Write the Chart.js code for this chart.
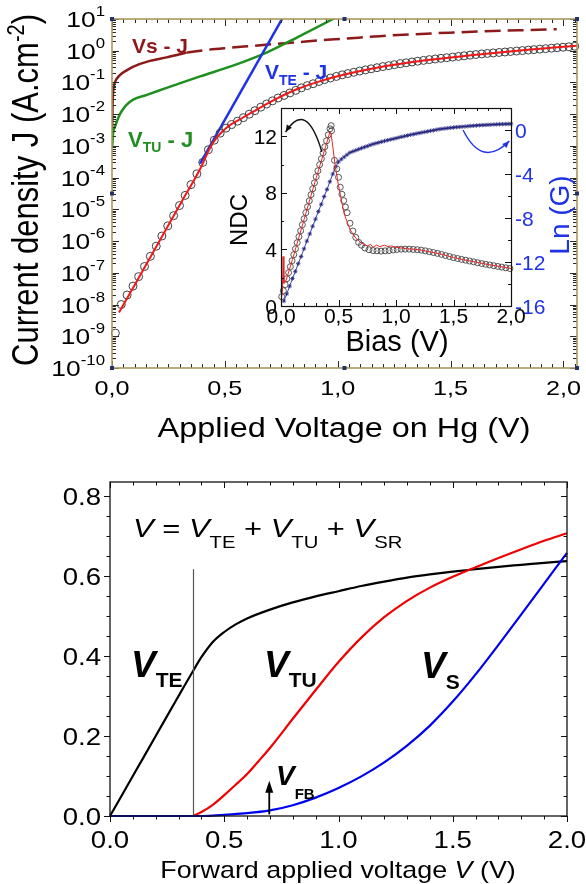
<!DOCTYPE html>
<html>
<head>
<meta charset="utf-8">
<script src="https://cdn.jsdelivr.net/npm/chart.js@4.4.0/dist/chart.umd.min.js"></script>
<style>
html, body { margin: 0; padding: 0; background: #fff; }
#wrap { position: relative; width: 586px; height: 884px; overflow: hidden; }
canvas { position: absolute; }
</style>
</head>
<body>
<div id="wrap">
  <canvas id="top" width="586" height="460" style="left:0;top:0;width:586px;height:460px"></canvas>
  <canvas id="inset" width="350" height="262" style="left:226px;top:100px;width:350px;height:262px"></canvas>
  <canvas id="bot" width="586" height="424" style="left:0;top:460px;width:586px;height:424px"></canvas>
</div>
<script>
// ---------- top panel : J-V on log scale (values are log10 J) ----------
const jV = [0.015,0.041,0.067,0.093,0.118,0.144,0.17,0.196,0.221,0.247,
  0.273,0.299,0.324,0.35,0.376,0.402,0.427,0.453,0.479,0.505,
  0.53,0.556,0.582,0.608,0.633,0.659,0.685,0.711,0.736,0.762,
  0.788,0.814,0.839,0.865,0.891,0.917,0.942,0.968,0.994,1.02,
  1.045,1.071,1.097,1.123,1.148,1.174,1.2,1.226,1.251,1.277,
  1.303,1.329,1.354,1.38,1.406,1.432,1.457,1.483,1.509,1.535,
  1.56,1.586,1.612,1.638,1.663,1.689,1.715,1.741,1.766,1.792,
  1.818,1.844,1.869,1.895,1.921,1.947,1.972,1.998,2.024,2.05];
const jLog = [-8.9,-8.0,-7.7,-7.42,-7.12,-6.8,-6.48,-6.16,-5.84,-5.52,
  -5.2,-4.88,-4.56,-4.22,-3.88,-3.52,-3.12,-2.82,-2.6,-2.44,
  -2.33,-2.22,-2.11,-2.0,-1.89,-1.78,-1.68,-1.58,-1.49,-1.41,
  -1.33,-1.25,-1.17,-1.1,-1.04,-0.97,-0.91,-0.86,-0.81,-0.76,
  -0.72,-0.68,-0.64,-0.605,-0.57,-0.535,-0.5,-0.47,-0.44,-0.41,
  -0.38,-0.355,-0.33,-0.305,-0.28,-0.26,-0.24,-0.22,-0.2,-0.18,
  -0.16,-0.14,-0.12,-0.1,-0.085,-0.07,-0.055,-0.04,-0.025,-0.01,
  0.005,0.02,0.035,0.05,0.065,0.08,0.095,0.11,0.125,0.14];
const fitV = [0.031,0.103,0.206,0.309,0.391,0.433,0.464,0.515,0.567,0.618,0.721,0.824,0.927,1.03,1.133,1.236,1.339,1.442,1.545,1.648,1.751,1.854,1.957,2.06];
const fitLog = [-8.25,-7.35,-6.05,-4.75,-3.72,-3.08,-2.74,-2.38,-2.16,-1.95,-1.54,-1.2,-0.95,-0.75,-0.59,-0.46,-0.35,-0.26,-0.18,-0.1,-0.03,0.04,0.1,0.16];
const vsV = [0.0008,0.003,0.013,0.035,0.065,0.095,0.168,0.242,0.33];
const vsLog = [-2.5,-1.55,-1.0,-0.77,-0.62,-0.5,-0.32,-0.21,-0.06];
const vsDashV = [0.33,0.412,0.515,0.618,0.721,0.824,0.927,1.03,1.185,1.339,1.494,1.648,1.803,1.97];
const vsDashLog = [-0.06,0.02,0.09,0.15,0.21,0.27,0.33,0.38,0.46,0.52,0.57,0.61,0.645,0.678];
const tuV = [0.001,0.005,0.013,0.035,0.062,0.094,0.155,0.242,0.39,0.536,0.687,0.834,0.979,1.03];
const tuLog = [-3.0,-2.6,-2.4,-2.0,-1.72,-1.54,-1.39,-1.17,-0.81,-0.47,-0.05,0.47,1.0,1.2];
const teV = [0.39, 0.77];
const teLog = [-3.56, 1.21];
const topXTicks = [0, 0.5, 1, 1.5, 2];
const topXLabels = ['0,0', '0,5', '1,0', '1,5', '2,0'];
const topYExp = [-10, -9, -8, -7, -6, -5, -4, -3, -2, -1, 0, 1];

// ---------- inset : NDC and Ln(G) vs bias ----------
const ndcV = [0.006,0.021,0.036,0.051,0.066,0.081,0.096,0.111,0.126,0.141,
  0.156,0.171,0.186,0.201,0.216,0.231,0.246,0.261,0.276,0.291,
  0.306,0.321,0.336,0.351,0.366,0.381,0.396,0.411,0.426,0.436,0.44,
  0.465,0.485,0.5,0.515,0.53,0.545,0.56,0.575,0.6,0.625,0.65,0.675,0.7,0.73,
  0.765,0.8,0.835,0.87,0.905,0.94,0.975,1.01,1.045,1.08,1.115,1.15,1.185,1.22,
  1.255,1.29,1.325,1.36,1.395,1.43,1.465,1.5,1.535,1.57,1.605,1.64,1.675,1.71,
  1.745,1.78,1.815,1.85,1.885,1.92,1.955,1.99];
const ndc = [0.66,1.08,1.51,1.93,2.36,2.78,3.2,3.63,4.05,4.48,
  4.9,5.32,5.75,6.17,6.6,7.02,7.44,7.87,8.29,8.71,
  9.14,9.56,9.99,10.41,10.83,11.26,11.68,12.1,12.53,12.75,12.4,
  10.3,9.7,9.1,8.4,7.9,7.45,7.0,6.6,5.85,5.3,4.85,4.5,4.3,4.1,
  3.98,3.92,3.9,3.88,3.9,3.92,3.96,4.0,4.02,4.02,4.02,4.0,3.98,3.95,
  3.9,3.84,3.78,3.72,3.65,3.57,3.5,3.42,3.36,3.3,3.24,3.18,3.12,3.06,
  3.0,2.95,2.9,2.85,2.8,2.75,2.7,2.65];
const ndcFitV = [0.0,0.012,0.018,0.025,0.04,0.1,0.2,0.3,0.4,0.425,0.435,0.45,0.47,0.5,0.55,0.6,0.65,0.7,0.75,0.78,0.8,0.83,0.86,0.9,0.93,0.96,1.0,1.1,1.2,1.3,1.4,1.5,1.6,1.7,1.8,1.9,2.0];
const ndcFit = [0.4,1.0,3.5,1.6,1.7,3.3,6.1,8.9,11.6,12.3,12.2,11.3,10.0,8.5,6.5,5.4,4.8,4.45,4.25,4.35,4.15,4.3,4.2,4.3,4.2,4.25,4.15,4.05,3.98,3.82,3.65,3.43,3.25,3.1,2.93,2.8,2.65];
const lnGV = [0.025,0.05,0.075,0.1,0.125,0.15,0.175,0.2,0.225,0.25,
  0.275,0.3,0.325,0.35,0.375,0.4,0.425,0.45,0.475,0.5,
  0.525,0.55,0.575,0.6,0.625,0.65,0.675,0.7,0.725,0.75,
  0.775,0.8,0.825,0.85,0.875,0.9,0.925,0.95,0.975,1.0,
  1.025,1.05,1.075,1.1,1.125,1.15,1.175,1.2,1.225,1.25,
  1.275,1.3,1.325,1.35,1.375,1.4,1.425,1.45,1.475,1.5,
  1.525,1.55,1.575,1.6,1.625,1.65,1.675,1.7,1.725,1.75,
  1.775,1.8,1.825,1.85,1.875,1.9,1.925,1.95,1.975,2.0];
const lnG = [-15.55,-14.9,-14.2,-13.5,-12.85,-12.15,-11.5,-10.8,-10.1,-9.45,
  -8.75,-8.1,-7.4,-6.75,-6.05,-5.4,-4.7,-4.0,-3.35,-2.9,
  -2.65,-2.45,-2.25,-2.05,-1.95,-1.85,-1.75,-1.65,-1.56,-1.47,
  -1.37,-1.28,-1.21,-1.14,-1.07,-1.0,-0.93,-0.87,-0.81,-0.75,
  -0.68,-0.62,-0.56,-0.5,-0.44,-0.39,-0.33,-0.28,-0.23,-0.18,
  -0.13,-0.08,-0.03,0.02,0.07,0.11,0.14,0.17,0.2,0.23,
  0.255,0.28,0.3,0.32,0.345,0.37,0.39,0.41,0.425,0.44,
  0.455,0.47,0.485,0.5,0.51,0.52,0.53,0.54,0.55,0.56];
const insXTicks = [0, 0.5, 1, 1.5, 2];
const insYTicks = [0, 4, 8, 12];
const insY2Ticks = [0, -4, -8, -12, -16];

// ---------- bottom panel : voltage partition ----------
const teVb = [0,0.1,0.2,0.3,0.363,0.4,0.45,0.5,0.55,0.6,0.7,0.8,0.9,1.0,1.1,1.2,1.3,1.4,1.5,1.6,1.7,1.8,1.9,2.0];
const vTE = [0,0.1,0.2,0.3,0.362,0.397,0.435,0.46,0.479,0.494,0.516,0.534,0.549,0.562,0.575,0.586,0.596,0.604,0.611,0.617,0.623,0.628,0.633,0.637];
const tuVb = [0.363,0.4,0.45,0.5,0.55,0.6,0.65,0.7,0.8,0.9,1.0,1.1,1.2,1.3,1.4,1.5,1.6,1.7,1.8,1.9,2.0];
const vTU = [0,0.01,0.028,0.052,0.078,0.105,0.137,0.17,0.243,0.315,0.385,0.446,0.497,0.538,0.571,0.598,0.622,0.645,0.667,0.688,0.707];
const sVb = [0,0.4,0.45,0.5,0.6,0.7,0.8,0.9,1.0,1.1,1.2,1.3,1.4,1.5,1.6,1.7,1.8,1.9,2.0];
const vS = [0,0,0.001,0.003,0.007,0.014,0.027,0.046,0.07,0.099,0.134,0.176,0.226,0.286,0.354,0.428,0.504,0.581,0.658];
const vFB = 0.697;
const vSplit = 0.363;
const botXTicks = [0, 0.5, 1, 1.5, 2];
const botXLabels = ['0.0', '0.5', '1.0', '1.5', '2.0'];
const botYTicks = [0, 0.2, 0.4, 0.6, 0.8];
const botYLabels = ['0.0', '0.2', '0.4', '0.6', '0.8'];

const FONT = '"Liberation Sans", Arial, Helvetica, sans-serif';
const OLIVE = '#a89a5b';
const BLUE = '#1e32e6';

function fnt(p) { return (p.it ? 'italic ' : '') + (p.b ? 'bold ' : '') + p.f + 'px ' + FONT; }

// draw a run of text pieces (sub/superscripts via dy), optionally rotated
function rich(ctx, x, y, parts, o) {
  o = o || {};
  ctx.save();
  ctx.translate(x, y);
  ctx.scale(o.sx || 1, 1);
  if (o.rot) ctx.rotate(-Math.PI / 2);
  ctx.textBaseline = 'alphabetic';
  ctx.textAlign = 'left';
  let w = 0;
  parts.forEach(p => {
    if (p.gap) p.w = p.gap;
    else { ctx.font = fnt(p); p.w = ctx.measureText(p.t).width; }
    w += p.w;
  });
  let cx = o.align === 'center' ? -w / 2 : (o.align === 'right' ? -w : 0);
  parts.forEach(p => {
    if (!p.gap) {
      ctx.font = fnt(p);
      ctx.fillStyle = p.c || o.c || '#000';
      ctx.fillText(p.t, cx, p.dy || 0);
    }
    cx += p.w;
  });
  ctx.restore();
}

function tickMarks(ctx, sc, a, side, vals, len, inward) {
  ctx.beginPath();
  vals.forEach(v => {
    const p = Math.round(sc.getPixelForValue(v)) + 0.5;
    if (side === 'bottom' || side === 'top') {
      const y0 = side === 'bottom' ? a.bottom : a.top;
      const dir = (side === 'bottom') === inward ? -1 : 1;
      ctx.moveTo(p, y0); ctx.lineTo(p, y0 + dir * len);
    } else {
      const x0 = side === 'left' ? a.left : a.right;
      const dir = (side === 'left') === inward ? 1 : -1;
      ctx.moveTo(x0, p); ctx.lineTo(x0 + dir * len, p);
    }
  });
  ctx.stroke();
}

function minors(a, b, step, majors) {
  const out = [];
  for (let v = a; v <= b + 1e-9; v += step) {
    const r = Math.round(v * 1000) / 1000;
    if (!majors.some(m => Math.abs(m - r) < 1e-6)) out.push(r);
  }
  return out;
}

function arrowHead(ctx, x, y, ang, len, half) {
  ctx.beginPath();
  ctx.moveTo(x, y);
  ctx.lineTo(x - len * Math.cos(ang) + half * Math.sin(ang), y - len * Math.sin(ang) - half * Math.cos(ang));
  ctx.lineTo(x - len * Math.cos(ang) - half * Math.sin(ang), y - len * Math.sin(ang) + half * Math.cos(ang));
  ctx.closePath();
  ctx.fill();
}

const pow10 = arr => arr.map(v => Math.pow(10, v));
const pts = (xs, ys) => xs.map((x, i) => ({ x: x, y: ys[i] }));
const line = (xs, ys, o) => Object.assign({ data: pts(xs, ys), showLine: true, pointRadius: 0, borderWidth: 2.5, fill: false }, o);

const baseOpts = (pad, scales) => ({
  responsive: false, animation: false, events: [], devicePixelRatio: 1,
  layout: { padding: pad },
  plugins: { legend: { display: false }, tooltip: { enabled: false } },
  scales: scales
});

// ---------- top chart ----------
const topDecor = {
  id: 'topDecor',
  afterDatasetsDraw(chart) {
    const ctx = chart.ctx, a = chart.chartArea, x = chart.scales.x, y = chart.scales.y;
    ctx.save();
    const xMin = minors(0, 2.06, 0.05, topXTicks);
    const yMaj = topYExp.map(e => Math.pow(10, e));
    const yMin = [];
    topYExp.slice(0, -1).forEach(e => { for (let k = 2; k <= 9; k++) yMin.push(k * Math.pow(10, e)); });
    ctx.strokeStyle = '#2a2a2a'; ctx.lineWidth = 1;
    ['bottom', 'top'].forEach(s => { tickMarks(ctx, x, a, s, topXTicks, 7, true); tickMarks(ctx, x, a, s, xMin, 4, true); });
    ['left', 'right'].forEach(s => { tickMarks(ctx, y, a, s, yMaj, 7, true); tickMarks(ctx, y, a, s, yMin, 4, true); });
    ctx.strokeStyle = OLIVE; ctx.lineWidth = 1.6;
    ctx.strokeRect(a.left, a.top, a.right - a.left, a.bottom - a.top);
    // layer handles
    ctx.fillStyle = '#25326a';
    const mx = (a.left + a.right) / 2, my = (a.top + a.bottom) / 2;
    [[a.left, a.top], [mx, a.top], [a.right, a.top], [a.left, my], [a.right, my], [a.left, a.bottom], [mx, a.bottom], [a.right, a.bottom]]
      .forEach(h => ctx.fillRect(h[0] - 2, h[1] - 2, 4, 4));
    ctx.restore();
  },
  afterDraw(chart) {
    const ctx = chart.ctx, x = chart.scales.x, y = chart.scales.y;
    topYExp.forEach(e => {
      const py = y.getPixelForValue(Math.pow(10, e));
      rich(ctx, 105, py + 8, [{ t: '10', f: 22 }, { t: String(e), f: 14, dy: -11 }], { align: 'right', sx: 1.2 });
    });
    topXTicks.forEach((v, i) => {
      rich(ctx, x.getPixelForValue(v), 395, [{ t: topXLabels[i], f: 21 }], { align: 'center', sx: 1.2 });
    });
    rich(ctx, 344, 437, [{ t: 'Applied Voltage on Hg (V)', f: 27 }], { align: 'center', sx: 1.2 });
    rich(ctx, 38, 190, [{ t: 'Current density J (A.cm', f: 31 }, { t: '-2', f: 20, dy: -12 }, { t: ')', f: 31 }], { align: 'center', rot: true, sx: 1.2 });
    rich(ctx, 132, 53, [{ t: 'Vs - J', f: 21, b: true }], { c: '#8c1a1a' });
    rich(ctx, 128, 147, [{ t: 'V', f: 22, b: true }, { t: 'TU', f: 14, b: true, dy: 5 }, { t: ' - J', f: 22, b: true }], { c: '#1f8f1f' });
    rich(ctx, 265, 79, [{ t: 'V', f: 21, b: true }, { t: 'TE', f: 14, b: true, dy: 6 }, { t: ' - J', f: 21, b: true }], { c: BLUE });
  }
};

new Chart(document.getElementById('top'), {
  type: 'scatter',
  data: {
    datasets: [
      line(fitV, pow10(fitLog), { borderColor: '#f01818', borderWidth: 2, cubicInterpolationMode: 'monotone', order: 1, clip: 2 }),
      { data: pts(jV, pow10(jLog)), showLine: false, pointRadius: 4, pointStyle: 'circle', pointBorderColor: '#404040',
        pointBackgroundColor: 'rgba(255,255,255,0)', pointBorderWidth: 1, order: 2, clip: 6 },
      line(teV, pow10(teLog), { borderColor: BLUE, order: 3, clip: 0 }),
      line(tuV, pow10(tuLog), { borderColor: '#1f8f1f', cubicInterpolationMode: 'monotone', order: 4, clip: 0 }),
      line(vsV, pow10(vsLog), { borderColor: '#8c1a1a', cubicInterpolationMode: 'monotone', order: 5, clip: 0 }),
      line(vsDashV, pow10(vsDashLog), { borderColor: '#8c1a1a', borderDash: [16, 7], cubicInterpolationMode: 'monotone', order: 5, clip: 0 })
    ]
  },
  options: baseOpts({ left: 112, right: 9, top: 19, bottom: 92 }, {
    x: { type: 'linear', min: 0, max: 2.06, display: false },
    y: { type: 'logarithmic', min: 1e-10, max: 10, display: false }
  }),
  plugins: [topDecor]
});

// ---------- inset chart ----------
const insetDecor = {
  id: 'insetDecor',
  beforeDatasetsDraw(chart) {
    const ctx = chart.ctx, a = chart.chartArea;
    ctx.save(); ctx.fillStyle = '#fff';
    ctx.fillRect(a.left, a.top, a.right - a.left, a.bottom - a.top);
    ctx.restore();
  },
  afterDatasetsDraw(chart) {
    const ctx = chart.ctx, a = chart.chartArea, x = chart.scales.x, y = chart.scales.y, y2 = chart.scales.y2;
    ctx.save();
    ctx.strokeStyle = '#111'; ctx.lineWidth = 1;
    const xMin = minors(0, 2, 0.1, insXTicks);
    ['bottom', 'top'].forEach(s => { tickMarks(ctx, x, a, s, insXTicks, 6, true); tickMarks(ctx, x, a, s, xMin, 3, true); });
    tickMarks(ctx, y, a, 'left', insYTicks, 6, true);
    tickMarks(ctx, y, a, 'left', minors(0, 14, 2, insYTicks), 3, true);
    tickMarks(ctx, y2, a, 'right', insY2Ticks, 6, true);
    tickMarks(ctx, y2, a, 'right', minors(-16, 2, 2, insY2Ticks), 3, true);
    ctx.lineWidth = 1.2;
    ctx.strokeRect(a.left + 0.5, a.top + 0.5, a.right - a.left, a.bottom - a.top);
    // curved arrows pointing to each curve's axis
    const arc = (p0, c, p1, col) => {
      ctx.strokeStyle = col; ctx.fillStyle = col; ctx.lineWidth = 1.4;
      ctx.beginPath(); ctx.moveTo(p0[0], p0[1]); ctx.quadraticCurveTo(c[0], c[1], p1[0], p1[1]); ctx.stroke();
      arrowHead(ctx, p1[0], p1[1], Math.atan2(p1[1] - c[1], p1[0] - c[0]), 7, 3);
    };
    arc([x.getPixelForValue(0.355), y.getPixelForValue(10.9)], [x.getPixelForValue(0.22), y.getPixelForValue(14.6)],
        [x.getPixelForValue(0.04), y.getPixelForValue(12.3)], '#111');
    arc([x.getPixelForValue(1.583), y2.getPixelForValue(0)], [x.getPixelForValue(1.75), y2.getPixelForValue(-3.5)],
        [x.getPixelForValue(1.985), y2.getPixelForValue(-1.0)], BLUE);
    ctx.restore();
  },
  afterDraw(chart) {
    const ctx = chart.ctx, x = chart.scales.x, y = chart.scales.y, y2 = chart.scales.y2;
    insYTicks.forEach(v => rich(ctx, 51, y.getPixelForValue(v) + 7.5, [{ t: String(v), f: 21 }], { align: 'right' }));
    insY2Ticks.forEach(v => rich(ctx, 289, y2.getPixelForValue(v) + 7.5, [{ t: String(v), f: 21 }], { c: BLUE }));
    insXTicks.forEach((v, i) => rich(ctx, x.getPixelForValue(v), 223, [{ t: topXLabels[i], f: 21 }], { align: 'center' }));
    rich(ctx, 171, 251, [{ t: 'Bias (V)', f: 29 }], { align: 'center' });
    rich(ctx, 21, 120, [{ t: 'NDC', f: 24 }], { align: 'center', rot: true });
    rich(ctx, 343, 115, [{ t: 'Ln (G)', f: 28 }], { align: 'center', rot: true, c: BLUE });
  }
};

new Chart(document.getElementById('inset'), {
  type: 'scatter',
  data: {
    datasets: [
      line(ndcFitV, ndcFit, { borderColor: '#e8282a', borderWidth: 1, order: 1, clip: 2 }),
      { data: pts(ndcV, ndc), showLine: false, pointRadius: 3, pointStyle: 'circle', pointBorderColor: '#444',
        pointBorderWidth: 0.9, pointBackgroundColor: 'rgba(255,255,255,0)', order: 2, clip: 4 },
      { data: pts(lnGV, lnG), yAxisID: 'y2', showLine: true, borderColor: '#3545b8', borderWidth: 1, pointRadius: 2.2,
        pointStyle: 'star', pointBorderColor: '#23237a', pointBorderWidth: 0.8, order: 3, clip: 4 }
    ]
  },
  options: baseOpts({ left: 55, right: 65, top: 8, bottom: 56 }, {
    x: { type: 'linear', min: 0, max: 2, display: false },
    y: { type: 'linear', min: 0, max: 14, display: false },
    y2: { type: 'linear', position: 'right', min: -16, max: 2, display: false }
  }),
  plugins: [insetDecor]
});

// ---------- bottom chart ----------
const botDecor = {
  id: 'botDecor',
  afterDatasetsDraw(chart) {
    const ctx = chart.ctx, a = chart.chartArea, x = chart.scales.x, y = chart.scales.y;
    ctx.save();
    // V_FB marker line and arrow
    ctx.strokeStyle = '#555'; ctx.lineWidth = 1.2;
    const xs = Math.round(x.getPixelForValue(vSplit)) + 0.5;
    ctx.beginPath(); ctx.moveTo(xs, y.getPixelForValue(0)); ctx.lineTo(xs, y.getPixelForValue(0.617)); ctx.stroke();
    const xa = x.getPixelForValue(vFB), ya0 = y.getPixelForValue(0.004), ya1 = y.getPixelForValue(0.088);
    ctx.strokeStyle = '#000'; ctx.fillStyle = '#000'; ctx.lineWidth = 1.8;
    ctx.beginPath(); ctx.moveTo(xa, ya0); ctx.lineTo(xa, ya1 + 8); ctx.stroke();
    arrowHead(ctx, xa, ya1, -Math.PI / 2, 12, 4);
    // frame and ticks
    ctx.strokeStyle = '#111'; ctx.lineWidth = 1;
    const xMin = minors(0, 2, 0.1, botXTicks), yMin = minors(0, 0.8, 0.05, botYTicks);
    tickMarks(ctx, x, a, 'bottom', botXTicks, 6, false); tickMarks(ctx, x, a, 'bottom', xMin, 3.5, false);
    tickMarks(ctx, x, a, 'top', botXTicks, 6, true); tickMarks(ctx, x, a, 'top', xMin, 3.5, true);
    tickMarks(ctx, y, a, 'left', botYTicks, 6, false); tickMarks(ctx, y, a, 'left', yMin, 3.5, false);
    tickMarks(ctx, y, a, 'right', botYTicks, 6, true); tickMarks(ctx, y, a, 'right', yMin, 3.5, true);
    ctx.lineWidth = 1.3;
    ctx.strokeRect(a.left, a.top, a.right - a.left, a.bottom - a.top);
    ctx.restore();
  },
  afterDraw(chart) {
    const ctx = chart.ctx, x = chart.scales.x, y = chart.scales.y;
    botYTicks.forEach((v, i) => rich(ctx, 101, y.getPixelForValue(v) + 8.5, [{ t: botYLabels[i], f: 24 }], { align: 'right', sx: 1.15 }));
    botXTicks.forEach((v, i) => rich(ctx, x.getPixelForValue(v), 388, [{ t: botXLabels[i], f: 24 }], { align: 'center', sx: 1.15 }));
    rich(ctx, 338, 418, [{ t: 'Forward applied voltage ', f: 24 }, { t: 'V', f: 24, it: true }, { t: ' (V)', f: 24 }], { align: 'center', sx: 1.12 });
    rich(ctx, 28, 830, [{ t: 'V', f: 28 }, { t: 'TE', f: 17, dy: 9 }, { gap: 22 }, { t: ',', f: 28 }, { gap: 20 },
      { t: 'V', f: 28 }, { t: 'TU', f: 17, dy: 9 }, { gap: 22 }, { t: ',', f: 28 }, { gap: 20 },
      { t: 'V', f: 28 }, { t: 'S', f: 17, dy: 9 }, { gap: 32 }, { t: '(V)', f: 28 }], { rot: true });
    rich(ctx, 133, 77, [{ t: 'V', f: 26, it: true }, { t: ' = ', f: 26 }, { t: 'V', f: 26, it: true }, { t: 'TE', f: 17, dy: 11 },
      { t: ' + ', f: 26 }, { t: 'V', f: 26, it: true }, { t: 'TU', f: 17, dy: 11 }, { t: ' + ', f: 26 },
      { t: 'V', f: 26, it: true }, { t: 'SR', f: 17, dy: 11 }], { sx: 1.19 });
    rich(ctx, 131, 217, [{ t: 'V', f: 37, b: true, it: true }, { t: 'TE', f: 21, b: true, dy: 10 }]);
    rich(ctx, 264, 217, [{ t: 'V', f: 37, b: true, it: true }, { t: 'TU', f: 21, b: true, dy: 10 }]);
    rich(ctx, 421, 218, [{ t: 'V', f: 37, b: true, it: true }, { t: 'S', f: 21, b: true, dy: 11 }]);
    rich(ctx, 276, 325, [{ t: 'V', f: 28, b: true, it: true }, { t: 'FB', f: 15, b: true, dy: 14 }]);
  }
};

new Chart(document.getElementById('bot'), {
  type: 'scatter',
  data: {
    datasets: [
      line(sVb, vS, { borderColor: '#0000f0', borderWidth: 2.2, cubicInterpolationMode: 'monotone', order: 1, clip: 3 }),
      line(tuVb, vTU, { borderColor: '#f00000', borderWidth: 2.2, cubicInterpolationMode: 'monotone', order: 2, clip: 3 }),
      line(teVb, vTE, { borderColor: '#000', borderWidth: 2.2, cubicInterpolationMode: 'monotone', order: 3, clip: 3 })
    ]
  },
  options: baseOpts({ left: 110, right: 19, top: 22, bottom: 68 }, {
    x: { type: 'linear', min: 0, max: 2, display: false },
    y: { type: 'linear', min: 0, max: 0.835, display: false }
  }),
  plugins: [botDecor]
});
</script>
</body>
</html>
